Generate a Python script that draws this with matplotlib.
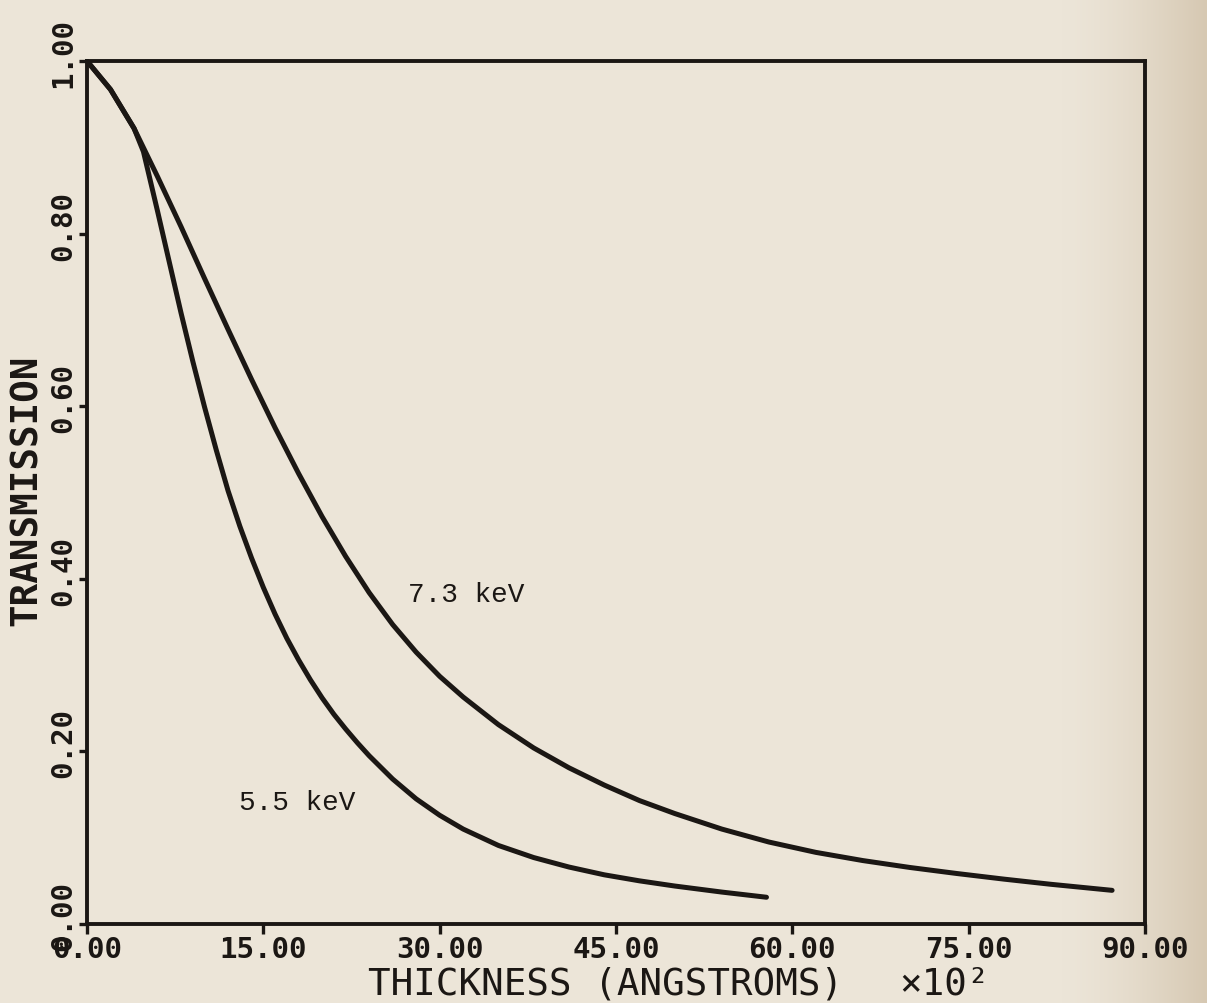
import numpy as np
import matplotlib
matplotlib.use("Agg")
import matplotlib.pyplot as plt
from matplotlib import transforms

# Transmission vs. film thickness (thickness in units of 10^2 angstroms)
thickness_55 = [0, 2, 4, 4.8, 6, 7, 8, 9, 10, 11, 12, 13, 14, 15, 16, 17, 18, 19,
                20, 21, 22, 23, 24, 26, 28, 30, 32, 35, 38, 41, 44, 47, 50, 54, 57.8]
trans_55 = [1.000, 0.967, 0.922, 0.895, 0.826, 0.767, 0.708, 0.652, 0.599, 0.549,
            0.502, 0.461, 0.424, 0.390, 0.359, 0.331, 0.306, 0.283, 0.262, 0.243,
            0.226, 0.210, 0.195, 0.168, 0.145, 0.126, 0.110, 0.091, 0.077, 0.066,
            0.057, 0.050, 0.044, 0.037, 0.031]

thickness_73 = [0, 2, 4, 6, 8, 10, 12, 14, 16, 18, 20, 22, 24, 26, 28, 30, 32, 35,
                38, 41, 44, 47, 50, 54, 58, 62, 66, 70, 74, 78, 82, 87.2]
trans_73 = [1.000, 0.967, 0.922, 0.866, 0.808, 0.748, 0.689, 0.631, 0.575, 0.522,
            0.472, 0.426, 0.384, 0.347, 0.315, 0.287, 0.263, 0.231, 0.204, 0.181,
            0.161, 0.143, 0.128, 0.110, 0.095, 0.083, 0.0735, 0.0655, 0.0585, 0.052,
            0.046, 0.039]

x_ticks = [0, 15, 30, 45, 60, 75, 90]
x_tick_labels = ["0.00", "15.00", "30.00", "45.00", "60.00", "75.00", "90.00"]
y_ticks = [0.0, 0.2, 0.4, 0.6, 0.8, 1.0]
y_tick_labels = ["0.00", "0.20", "0.40", "0.60", "0.80", "1.00"]

INK = "#1b1714"
PAPER = (236, 229, 216)
MONO = ["DejaVu Sans Mono"]
TYPE = ["Liberation Mono", "DejaVu Sans Mono"]

W, H, DPI = 1207, 1004, 100
fig = plt.figure(figsize=(W / DPI, H / DPI), dpi=DPI)
fig.patch.set_facecolor(np.array(PAPER) / 255)

# paper tone, darkening toward the right edge
cols = np.linspace(0, 1, W)
shade = np.clip((cols - 0.88) / 0.12, 0, 1) ** 1.5
base = np.array(PAPER, float)
edge = np.array([214, 200, 178], float)
row = base[None, :] * (1 - shade[:, None]) + edge[None, :] * shade[:, None]
bg = np.repeat(row[None, :, :], H, axis=0) / 255.0
fig.figimage(bg, xo=0, yo=0, zorder=-10)

left, right, top, bottom = 87, 1145, 62, 925
ax = fig.add_axes([left / W, 1 - bottom / H, (right - left) / W, (bottom - top) / H])
ax.set_zorder(5)
ax.patch.set_alpha(0)

ax.plot(thickness_55, trans_55, color=INK, lw=3.6, solid_capstyle="round",
        solid_joinstyle="round")
ax.plot(thickness_73, trans_73, color=INK, lw=3.6, solid_capstyle="round",
        solid_joinstyle="round")

ax.set_xlim(0, 90)
ax.set_ylim(0, 1)
for s in ax.spines.values():
    s.set_linewidth(2.8)
    s.set_color(INK)

ax.set_xticks(x_ticks)
ax.set_xticklabels(x_tick_labels, family=MONO, fontsize=21, fontweight="bold",
                   color=INK)
ax.set_yticks(y_ticks)
ax.set_yticklabels([])
ax.tick_params(axis="both", direction="out", length=7, width=2.4, color=INK)
ax.tick_params(axis="x", pad=1)
ax.tick_params(axis="y", length=6)

# y tick labels: rotated, decimal point aligned with the tick
blend = transforms.blended_transform_factory(ax.transAxes, ax.transData)
shift = transforms.ScaledTranslation(-24 / DPI, -26 / DPI, fig.dpi_scale_trans)
for v, lab in zip(y_ticks, y_tick_labels):
    ax.text(0, v, lab, transform=blend + shift, rotation=90, rotation_mode="anchor",
            ha="left", va="center", family=MONO, fontsize=21, fontweight="bold",
            color=INK, clip_on=False)

fig.text(606 / W, 1 - 985 / H, "THICKNESS (ANGSTROMS)", ha="center", va="center",
         family=MONO, fontsize=27, color=INK)
fig.text(945 / W, 1 - 985 / H, "\u00d710\u00b2", ha="center", va="center",
         family=MONO, fontsize=27, color=INK)
fig.text(27 / W, 1 - 490 / H, "TRANSMISSION", ha="center", va="center",
         rotation=90, family=MONO, fontsize=27, fontweight="bold", color=INK)

ax.text(27.3, 0.382, "7.3 keV", ha="left", va="center", family=TYPE,
        fontsize=20, color=INK)
ax.text(12.9, 0.141, "5.5 keV", ha="left", va="center", family=TYPE,
        fontsize=20, color=INK)

fig.savefig("out.png", dpi=DPI, facecolor=fig.get_facecolor())
